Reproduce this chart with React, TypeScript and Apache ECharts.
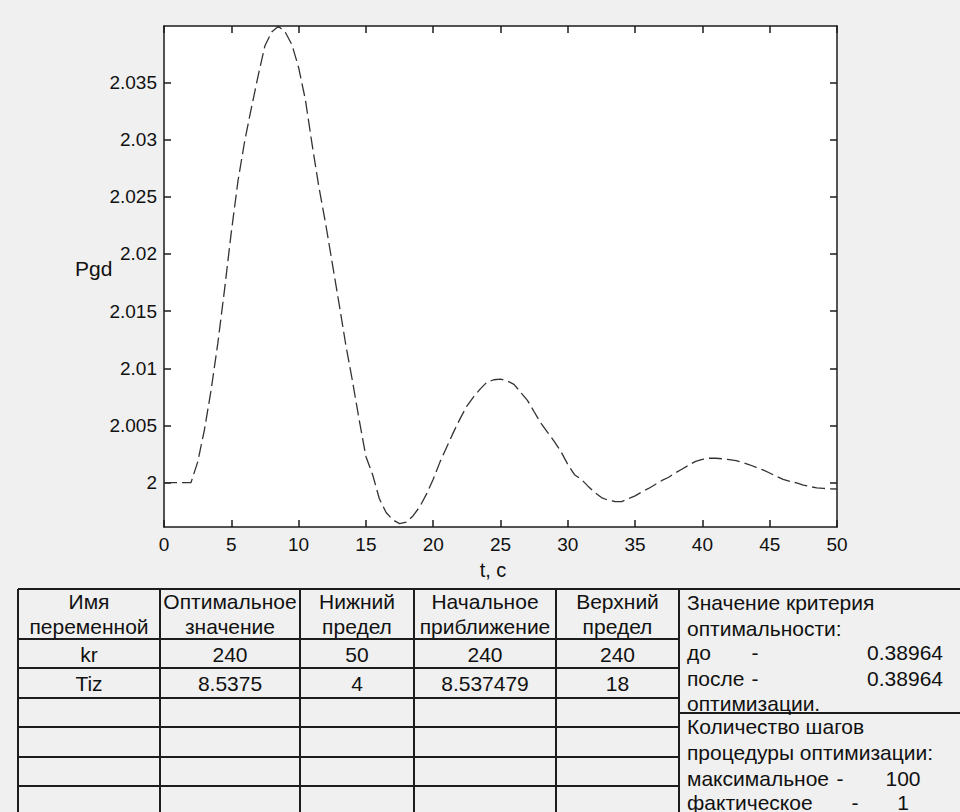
import React, { useEffect, useRef } from "react";
import * as echarts from "echarts";

// ---- data ----
const tValues = [
  0, 1, 2, 2.5, 3, 3.5, 4, 4.5,
  5, 5.5, 6, 6.5, 7, 7.5, 8, 8.5, 9, 9.5,
  10, 10.5, 11, 11.5, 12, 12.5, 13, 13.5, 14, 14.5,
  15, 15.5, 16, 16.5, 17, 17.5, 18, 18.5, 19, 19.5,
  20, 20.5, 21, 21.5, 22, 22.5, 23, 23.5, 24, 24.5,
  25, 25.5, 26, 26.5, 27, 27.5, 28, 28.5, 29, 29.5,
  30, 30.5, 31, 31.5, 32, 32.5, 33, 33.5, 34, 34.5,
  35, 35.5, 36, 36.5, 37, 37.5, 38, 38.5, 39, 39.5,
  40, 40.5, 41, 41.5, 42, 42.5, 43, 43.5, 44, 44.5,
  45, 45.5, 46, 46.5, 47, 47.5, 48, 48.5, 49, 49.5,
  50,
];
const pgdValues = [
  2.0, 2.0, 2.0, 2.0018, 2.0046, 2.0081, 2.0122, 2.0169,
  2.0219, 2.0264, 2.0299, 2.0328, 2.0356, 2.0382, 2.0394, 2.0399, 2.0394, 2.0383,
  2.0363, 2.0335, 2.0296, 2.0259, 2.0227, 2.0192, 2.0157, 2.0121, 2.0089, 2.0055,
  2.0023, 2.0007, 1.9986, 1.9974, 1.99675, 1.99643, 1.99655, 1.9971, 1.9979, 1.999,
  2.0003, 2.0018, 2.0031, 2.0044, 2.0056, 2.0067, 2.0075, 2.0082, 2.0088, 2.009,
  2.00906, 2.0089, 2.0086, 2.0079, 2.0072, 2.0062, 2.0052, 2.0044, 2.0036, 2.0027,
  2.0016, 2.0007, 2.0003, 1.9997, 1.99915, 1.9987, 1.99847, 1.99836, 1.99834, 1.9986,
  1.99885, 1.9992, 1.9995, 1.99985, 2.0002, 2.00048, 2.00087, 2.0012, 2.00155, 2.00186,
  2.00205, 2.00214, 2.00214, 2.00209, 2.00202, 2.00193, 2.00177, 2.00157, 2.00135, 2.00112,
  2.00085, 2.00055, 2.0003, 2.00012, 1.99998, 1.9998, 1.99966, 1.99955, 1.9995, 1.99947,
  1.99945,
];
const yTickValues = [2, 2.005, 2.01, 2.015, 2.02, 2.025, 2.03, 2.035];
const xMin = 0;
const xMax = 50;
const xStep = 5;
const yMin = 1.99613;
const yMax = 2.03992;

const tableHeaders = [
  ["Имя", "переменной"],
  ["Оптимальное", "значение"],
  ["Нижний", "предел"],
  ["Начальное", "приближение"],
  ["Верхний", "предел"],
];
const tableRows = [
  ["kr", "240", "50", "240", "240"],
  ["Tiz", "8.5375", "4", "8.537479", "18"],
];
const criterionTitle = ["Значение критерия", "оптимальности:"];
const criterionBefore = "0.38964";
const criterionAfter = "0.38964";
const stepsTitle = ["Количество шагов", "процедуры оптимизации:"];
const stepsMax = "100";
const stepsActual = "1";

const FONT = "Liberation Sans, Arial, sans-serif";

export default function App() {
  const ref = useRef<HTMLDivElement>(null);
  useEffect(() => {
    if (!ref.current) return;
    const chart = echarts.init(ref.current, null, { renderer: "svg" });

    const lineColor = "#1c1c1c";
    const colX = [18, 160, 300, 414, 556, 679];
    const rowY = [589, 639, 668, 698, 727, 757, 786];
    const tableBottom = 812;
    const g: any[] = [];
    const hline = (x1: number, x2: number, y: number) =>
      g.push({ type: "line", shape: { x1, y1: y, x2, y2: y }, style: { stroke: lineColor, lineWidth: 2 }, silent: true });
    const vline = (x: number, y1: number, y2: number) =>
      g.push({ type: "line", shape: { x1: x, y1, x2: x, y2 }, style: { stroke: lineColor, lineWidth: 2 }, silent: true });
    const text = (s: string, x: number, y: number, align = "left", size = 21) =>
      g.push({
        type: "text",
        silent: true,
        style: {
          text: s, x, y, fill: "#111", font: `${size}px ${FONT}`,
          align, textAlign: align, verticalAlign: "middle", textVerticalAlign: "middle",
        },
      });

    hline(colX[0], 960, rowY[0]);
    for (let i = 1; i < rowY.length; i++) hline(colX[0], colX[5], rowY[i]);
    hline(colX[5], 960, 713);
    colX.forEach((x) => vline(x, rowY[0], tableBottom));

    const centers = colX.slice(0, 5).map((x, i) => (x + colX[i + 1]) / 2);
    tableHeaders.forEach((h, i) => {
      text(h[0], centers[i], 601, "center");
      text(h[1], centers[i], 626, "center");
    });
    tableRows.forEach((r, j) => {
      r.forEach((s, i) => text(s, centers[i], j === 0 ? 654 : 683, "center"));
    });

    const px = 687;
    text(criterionTitle[0], px, 602);
    text(criterionTitle[1], px, 628);
    text("до", px, 652);
    text("-", 755, 652, "center");
    text(criterionBefore, 943, 652, "right");
    text("после", px, 678);
    text("-", 755, 678, "center");
    text(criterionAfter, 943, 678, "right");
    text("оптимизации.", px, 703);
    text(stepsTitle[0], px, 726);
    text(stepsTitle[1], px, 752);
    text("максимальное", px, 778);
    text("-", 840, 778, "center");
    text(stepsMax, 903, 778, "center");
    text("фактическое", px, 802);
    text("-", 855, 802, "center");
    text(stepsActual, 903, 802, "center");

    // axis labels
    text("Pgd", 75, 268, "left", 21);
    text("t, c", 493, 570, "center", 20);

    const yFmt = (v: number) => String(+v.toFixed(3));
    const tick = { inside: true, length: 7, lineStyle: { color: lineColor, width: 1.5 } };
    const axisLine = { show: true, onZero: false, lineStyle: { color: lineColor, width: 1.5 } };

    chart.setOption({
      animation: false,
      backgroundColor: "#f0f0f0",
      grid: {
        left: 164, right: 123, top: 26, bottom: 285,
        show: true, backgroundColor: "#ffffff", borderWidth: 0,
      },
      xAxis: [
        {
          type: "value", min: xMin, max: xMax, interval: xStep, position: "bottom",
          axisLine, axisTick: tick, splitLine: { show: false },
          axisLabel: { color: "#111", fontSize: 19, fontFamily: FONT, margin: 8 },
        },
        {
          type: "value", min: xMin, max: xMax, interval: xStep, position: "top",
          axisLine, axisTick: tick, splitLine: { show: false }, axisLabel: { show: false },
        },
      ],
      yAxis: [
        {
          type: "value", min: yMin, max: yMax, position: "left",
          axisLine, axisTick: { ...tick, customValues: yTickValues }, splitLine: { show: false },
          axisLabel: {
            customValues: yTickValues, formatter: yFmt,
            color: "#111", fontSize: 19, fontFamily: FONT, margin: 7,
          },
        },
        {
          type: "value", min: yMin, max: yMax, position: "right",
          axisLine, axisTick: { ...tick, customValues: yTickValues }, splitLine: { show: false },
          axisLabel: { show: false },
        },
      ],
      series: [
        {
          type: "line",
          data: tValues.map((t, i) => [t, pgdValues[i]]),
          showSymbol: false,
          lineStyle: { color: "#333333", width: 1.3, type: [13, 5] },
          clip: false,
        },
      ],
      graphic: g,
    });
    return () => chart.dispose();
  }, []);
  return (
    <div
      ref={ref}
      style={{ position: "absolute", left: 0, top: 0, width: 960, height: 812 }}
    />
  );
}
